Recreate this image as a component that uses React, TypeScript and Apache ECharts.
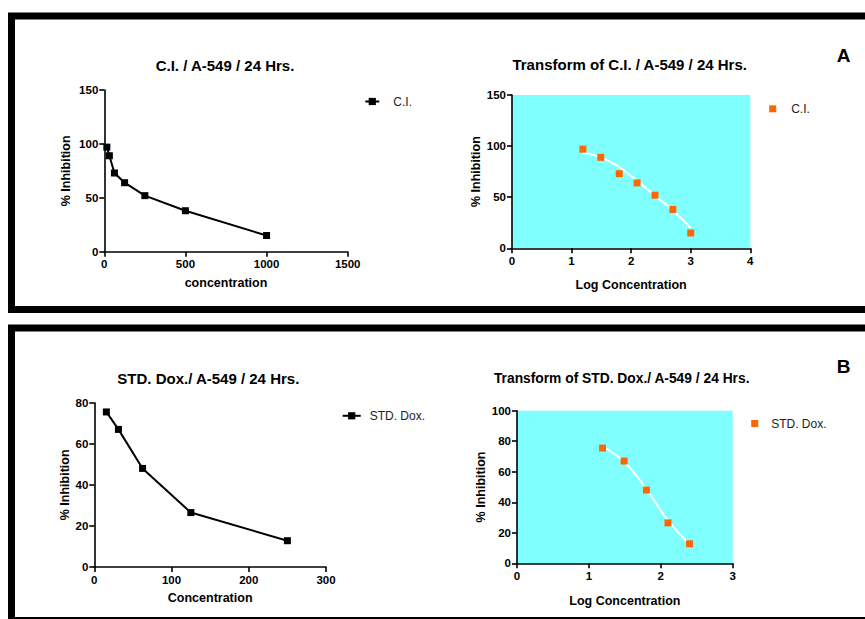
import React, { useEffect, useRef } from "react";
import * as echarts from "echarts";

// ---- Data ----
const ciConc = [15.625, 31.25, 62.5, 125, 250, 500, 1000];
const ciInhibition = [97, 89, 73, 64, 52, 38, 15];
const ciLogConc = [1.19, 1.49, 1.8, 2.1, 2.4, 2.7, 3.0];
const ciFitLog = [1.19, 1.49, 1.8, 2.1, 2.4, 2.7, 3.0];
const ciFitValue = [93.5, 89, 79.5, 66, 51.5, 37, 20];

const doxConc = [15.625, 31.25, 62.5, 125, 250];
const doxInhibition = [75.5, 67, 48, 26.5, 12.8];
const doxLogConc = [1.19, 1.49, 1.8, 2.1, 2.4];
const doxFitLog = [1.19, 1.49, 1.8, 2.1, 2.4];
const doxFitValue = [76.5, 66.5, 48.5, 28, 12.5];

const titles = [
  "C.I. / A-549 / 24 Hrs.",
  "Transform of C.I. / A-549 / 24 Hrs.",
  "STD. Dox./ A-549 / 24 Hrs.",
  "Transform of STD. Dox./ A-549 / 24 Hrs.",
];
const xNames = ["concentration", "Log Concentration", "Concentration", "Log Concentration"];
const yName = "% Inhibition";
const panelLabels = ["A", "B"];

const FONT = "'Liberation Sans', Arial, Helvetica, sans-serif";

const zip = (a: number[], b: number[]) => a.map((v, i) => [v, b[i]]);

function axisBase(labelMargin: number) {
  return {
    type: "value" as const,
    axisLine: { show: true, onZero: false, lineStyle: { color: "#000", width: 1.6 } },
    axisTick: { show: true, length: 5, lineStyle: { color: "#000", width: 1.6 } },
    axisLabel: {
      color: "#000",
      fontWeight: "bold",
      fontSize: 11.5,
      fontFamily: FONT,
      margin: labelMargin,
      formatter: (v: number) => String(v),
    },
    splitLine: { show: false },
    nameLocation: "middle" as const,
    nameTextStyle: { color: "#000", fontWeight: "bold", fontSize: 12.5, fontFamily: FONT },
  };
}

export default function App() {
  const ref = useRef<HTMLDivElement>(null);

  useEffect(() => {
    if (!ref.current) return;
    const chart = echarts.init(ref.current, undefined, { renderer: "svg" });

    const grids = [
      { left: 104.3, top: 90, width: 243.4, height: 161.7 },
      { left: 512, top: 95, width: 238.3, height: 153.3, show: true, backgroundColor: "#80FFFF", borderWidth: 0 },
      { left: 94.3, top: 402.7, width: 231.7, height: 164.3 },
      { left: 517, top: 410.7, width: 215.7, height: 152.6, show: true, backgroundColor: "#80FFFF", borderWidth: 0 },
    ];

    const xRanges = [
      { min: 0, max: 1500, interval: 500 },
      { min: 0, max: 4, interval: 1 },
      { min: 0, max: 300, interval: 100 },
      { min: 0, max: 3, interval: 1 },
    ];
    const yRanges = [
      { min: 0, max: 150, interval: 50, gap: 32 },
      { min: 0, max: 150, interval: 50, gap: 29.7 },
      { min: 0, max: 80, interval: 20, gap: 22.3 },
      { min: 0, max: 100, interval: 20, gap: 27.3 },
    ];
    const xGaps = [25, 30, 24, 31];

    const xAxis = xRanges.map((r, i) => ({
      ...axisBase(6.5),
      gridIndex: i,
      min: r.min,
      max: r.max,
      interval: r.interval,
      name: xNames[i],
      nameGap: xGaps[i],
    }));
    const yAxis = yRanges.map((r, i) => ({
      ...axisBase(6),
      gridIndex: i,
      min: r.min,
      max: r.max,
      interval: r.interval,
      name: yName,
      nameGap: r.gap,
    }));

    const titlePos = [
      [225, 65],
      [629.7, 64.5],
      [208.3, 378.5],
      [621.7, 378],
    ];
    const titleSizes = [15, 15, 15, 13.8];

    const legendText = { color: "#222", fontSize: 12, fontFamily: FONT };

    chart.setOption({
      animation: false,
      backgroundColor: "#fff",
      grid: grids,
      xAxis,
      yAxis,
      legend: [
        {
          data: ["C.I."],
          left: 364.3,
          top: 95.5,
          itemWidth: 14,
          itemHeight: 9,
          padding: 0,
          selectedMode: false,
          textStyle: { ...legendText, padding: [0, 0, 0, 9] },
        },
        {
          data: ["C.I. log"],
          formatter: () => "C.I.",
          left: 769.2,
          top: 102.8,
          itemWidth: 7,
          itemHeight: 7,
          padding: 0,
          selectedMode: false,
          textStyle: { ...legendText, padding: [0, 0, 0, 10] },
        },
        {
          data: ["STD. Dox."],
          left: 341.7,
          top: 409.8,
          itemWidth: 18,
          itemHeight: 9,
          padding: 0,
          selectedMode: false,
          textStyle: { ...legendText, padding: [0, 0, 0, 4] },
        },
        {
          data: ["STD. Dox. log"],
          formatter: () => "STD. Dox.",
          left: 751.2,
          top: 417.5,
          itemWidth: 7,
          itemHeight: 7,
          padding: 0,
          selectedMode: false,
          textStyle: { ...legendText, padding: [0, 0, 0, 8] },
        },
      ],
      series: [
        {
          type: "line",
          name: "C.I.",
          xAxisIndex: 0,
          yAxisIndex: 0,
          data: zip(ciConc, ciInhibition),
          symbol: "rect",
          symbolSize: 7,
          itemStyle: { color: "#000" },
          lineStyle: { color: "#000", width: 2 },
        },
        {
          type: "line",
          name: "ciFit",
          xAxisIndex: 1,
          yAxisIndex: 1,
          data: zip(ciFitLog, ciFitValue),
          smooth: true,
          showSymbol: false,
          symbol: "none",
          silent: true,
          lineStyle: { color: "#fff", width: 2 },
          z: 2,
        },
        {
          type: "scatter",
          name: "C.I. log",
          xAxisIndex: 1,
          yAxisIndex: 1,
          data: zip(ciLogConc, ciInhibition),
          symbol: "rect",
          symbolSize: 7,
          itemStyle: { color: "#FF6600", opacity: 1 },
          z: 3,
        },
        {
          type: "line",
          name: "STD. Dox.",
          xAxisIndex: 2,
          yAxisIndex: 2,
          data: zip(doxConc, doxInhibition),
          symbol: "rect",
          symbolSize: 7,
          itemStyle: { color: "#000" },
          lineStyle: { color: "#000", width: 2 },
        },
        {
          type: "line",
          name: "doxFit",
          xAxisIndex: 3,
          yAxisIndex: 3,
          data: zip(doxFitLog, doxFitValue),
          smooth: true,
          showSymbol: false,
          symbol: "none",
          silent: true,
          lineStyle: { color: "#fff", width: 2 },
          z: 2,
        },
        {
          type: "scatter",
          name: "STD. Dox. log",
          xAxisIndex: 3,
          yAxisIndex: 3,
          data: zip(doxLogConc, doxInhibition),
          symbol: "rect",
          symbolSize: 7,
          itemStyle: { color: "#FF6600", opacity: 1 },
          z: 3,
        },
      ],
      graphic: [
        {
          type: "rect",
          shape: { x: 11.5, y: 16, width: 900, height: 293.5 },
          style: { fill: "none", stroke: "#000", lineWidth: 7 },
          silent: true,
        },
        {
          type: "rect",
          shape: { x: 11.5, y: 328, width: 900, height: 292.5 },
          style: { fill: "none", stroke: "#000", lineWidth: 7 },
          silent: true,
        },
        ...titles.map((t, i) => ({
          type: "text",
          x: titlePos[i][0],
          y: titlePos[i][1],
          style: {
            text: t,
            fill: "#000",
            font: `bold ${titleSizes[i]}px ${FONT}`,
            textAlign: "center",
            textVerticalAlign: "middle",
          },
          silent: true,
        })),
        {
          type: "text",
          x: 843.7,
          y: 55.5,
          style: {
            text: panelLabels[0],
            fill: "#000",
            font: `bold 19px ${FONT}`,
            textAlign: "center",
            textVerticalAlign: "middle",
          },
        },
        {
          type: "text",
          x: 843.7,
          y: 366.5,
          style: {
            text: panelLabels[1],
            fill: "#000",
            font: `bold 19px ${FONT}`,
            textAlign: "center",
            textVerticalAlign: "middle",
          },
        },
      ],
    });

    return () => chart.dispose();
  }, []);

  return (
    <div
      ref={ref}
      style={{ position: "absolute", left: 0, top: 0, width: 865, height: 619, background: "#fff" }}
    />
  );
}
